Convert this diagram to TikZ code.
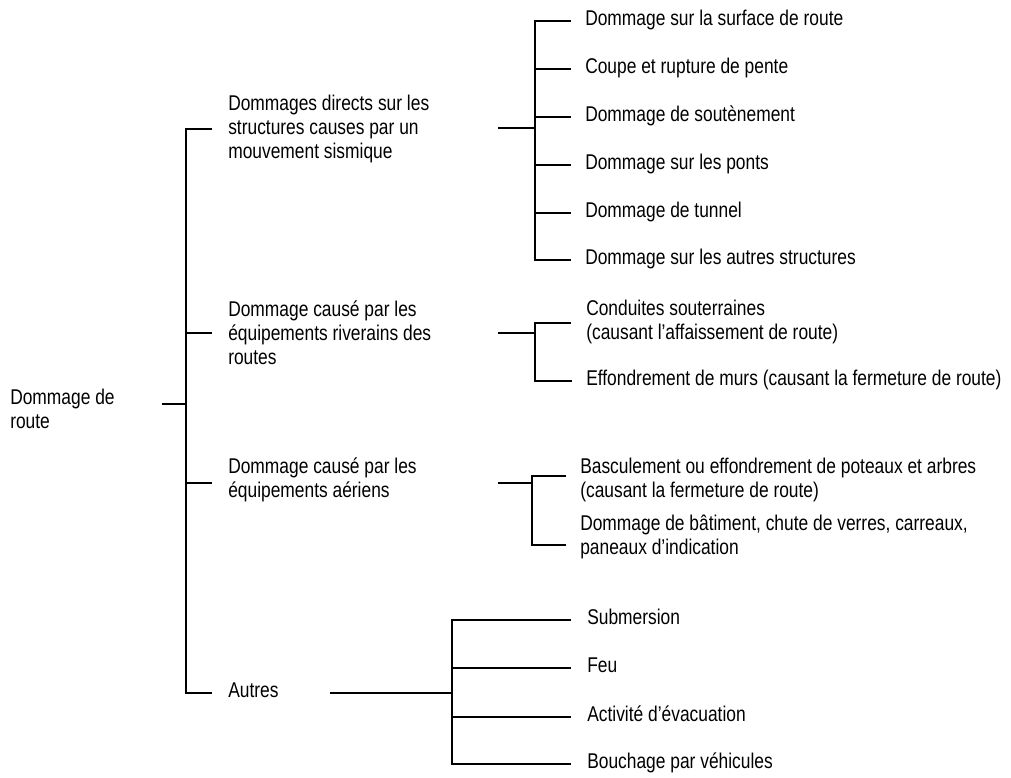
\documentclass[tikz,border=0pt]{standalone}
\usepackage{fontspec}
\setmainfont[FakeStretch=0.815]{Liberation Sans}
\usetikzlibrary{positioning}

\begin{document}
\begin{tikzpicture}[
  x=.75pt,y=-.75pt,
  line cap=butt,line join=miter,
  font=\fontsize{16}{18}\selectfont,
  lbl/.style={inner sep=0pt,align=left,execute at begin node=\strut},
  tree/.style={line width=1pt,draw=black},
  stub/.style={line width=1.5pt,draw=black}
]
\useasboundingbox (0,0) rectangle (1011,778);

% Root and first level
\node[lbl,anchor=north west] (root) at (10,389) {Dommage de\\route};
\node[lbl,anchor=north west] (direct) at (228,95)
  {Dommages directs sur les\\structures causes par un\\mouvement sismique};
\node[lbl,anchor=north west] (riverain) at (228,301)
  {Dommage causé par les\\équipements riverains des\\routes};
\node[lbl,anchor=north west] (aerien) at (228,458)
  {Dommage causé par les\\équipements aériens};
\node[lbl,anchor=west] (autres) at (228,693) {Autres};

% Direct damage
\node[lbl,anchor=west] (surface) at (585,21) {Dommage sur la surface de route};
\node[lbl,anchor=west] (pente) at (585,69) {Coupe et rupture de pente};
\node[lbl,anchor=west] (soutenement) at (585,117) {Dommage de soutènement};
\node[lbl,anchor=west] (ponts) at (585,165) {Dommage sur les ponts};
\node[lbl,anchor=west] (tunnel) at (585,213) {Dommage de tunnel};
\node[lbl,anchor=west] (structures) at (585,260) {Dommage sur les autres structures};

% Roadside equipment
\node[lbl,anchor=north west] (conduites) at (586,300)
  {Conduites souterraines\\(causant l’affaissement de route)};
\node[lbl,anchor=west] (murs) at (586,381) {Effondrement de murs (causant la fermeture de route)};

% Overhead equipment
\node[lbl,anchor=north west] (poteaux) at (580,458)
  {Basculement ou effondrement de poteaux et arbres\\(causant la fermeture de route)};
\node[lbl,anchor=north west] (batiment) at (580,515)
  {Dommage de bâtiment, chute de verres, carreaux,\\paneaux d’indication};

% Others
\node[lbl,anchor=west] (submersion) at (587,620) {Submersion};
\node[lbl,anchor=west] (feu) at (587,668) {Feu};
\node[lbl,anchor=west] (evacuation) at (587,717) {Activité d’évacuation};
\node[lbl,anchor=west] (bouchage) at (587,764) {Bouchage par véhicules};

% Junction points
\coordinate (rootout) at (162,404);
\coordinate (spine) at (186,404);
\coordinate (tdirect) at (212,129);
\coordinate (triverain) at (212,333);
\coordinate (taerien) at (212,483);
\coordinate (tautres) at (212,693);
\coordinate (odirect) at (498,128);   \coordinate (sdirect) at (535,128);
\coordinate (oriverain) at (498,333); \coordinate (sriverain) at (535,333);
\coordinate (oaerien) at (498,483);   \coordinate (saerien) at (532,483);
\coordinate (oautres) at (330,693);   \coordinate (sautres) at (452,693);
\coordinate (tconduites) at (571,323);
\coordinate (tpoteaux) at (566,476);
\coordinate (tbatiment) at (566,545);

% Brackets
\draw[stub] (rootout)--(spine);
\draw[tree] (tdirect)--(spine |- tdirect)--(spine |- tautres)--(tautres);
\foreach \n in {riverain,aerien}{\draw[tree] (spine |- t\n)--(t\n);}
\foreach \n in {direct,riverain,aerien,autres}{\draw[stub] (o\n)--(s\n);}

\draw[tree] ([xshift=-10.5pt]surface.west)--(sdirect |- surface.west)
  --(sdirect |- structures.west)--([xshift=-10.5pt]structures.west);
\foreach \n in {pente,soutenement,ponts,tunnel}{\draw[tree] (sdirect |- \n.west)--([xshift=-10.5pt]\n.west);}

\draw[tree] (tconduites)--(sriverain |- tconduites)--(sriverain |- murs.west)--([xshift=-10.5pt]murs.west);
\draw[tree] (tpoteaux)--(saerien |- tpoteaux)--(saerien |- tbatiment)--(tbatiment);

\draw[tree] ([xshift=-12pt]submersion.west)--(sautres |- submersion.west)
  --(sautres |- bouchage.west)--([xshift=-12pt]bouchage.west);
\foreach \n in {feu,evacuation}{\draw[tree] (sautres |- \n.west)--([xshift=-12pt]\n.west);}
\end{tikzpicture}
\end{document}
